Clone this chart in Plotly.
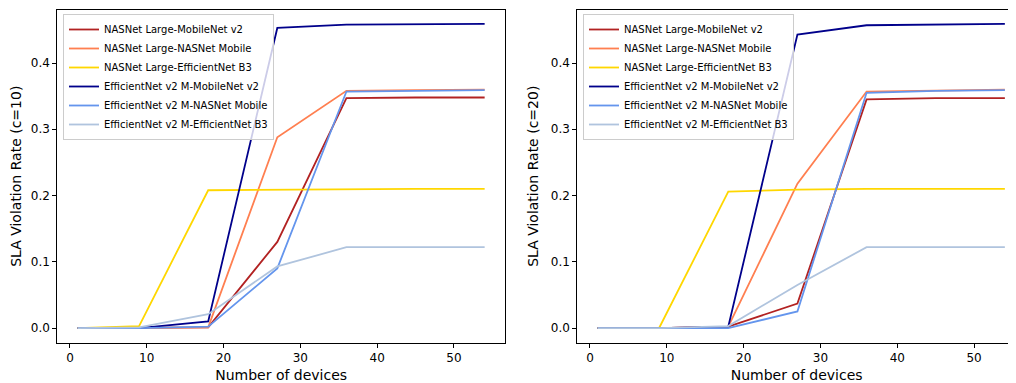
import plotly.graph_objects as go

devices = [1, 9, 18, 27, 36, 45, 54]

series_names = [
    "NASNet Large-MobileNet v2",
    "NASNet Large-NASNet Mobile",
    "NASNet Large-EfficientNet B3",
    "EfficientNet v2 M-MobileNet v2",
    "EfficientNet v2 M-NASNet Mobile",
    "EfficientNet v2 M-EfficientNet B3",
]
series_colors = ["#b22222", "#ff7f50", "#ffd700", "#00008b", "#6495ed", "#b0c4de"]

# SLA violation rate, c=10
c10_nl_mnv2 = [0.0, 0.0, 0.001, 0.130, 0.347, 0.348, 0.348]
c10_nl_nasm = [0.0, 0.0, 0.001, 0.288, 0.358, 0.359, 0.360]
c10_nl_effb3 = [0.0, 0.003, 0.208, 0.209, 0.210, 0.210, 0.210]
c10_ev2_mnv2 = [0.0, 0.0, 0.010, 0.453, 0.458, 0.459, 0.459]
c10_ev2_nasm = [0.0, 0.0, 0.002, 0.090, 0.357, 0.358, 0.359]
c10_ev2_effb3 = [0.0, 0.001, 0.021, 0.093, 0.122, 0.122, 0.122]

# SLA violation rate, c=20
c20_nl_mnv2 = [0.0, 0.0, 0.002, 0.037, 0.345, 0.347, 0.347]
c20_nl_nasm = [0.0, 0.0, 0.002, 0.218, 0.357, 0.359, 0.360]
c20_nl_effb3 = [0.0, 0.0, 0.206, 0.209, 0.210, 0.210, 0.210]
c20_ev2_mnv2 = [0.0, 0.0, 0.002, 0.443, 0.457, 0.458, 0.459]
c20_ev2_nasm = [0.0, 0.0, 0.0, 0.025, 0.355, 0.358, 0.359]
c20_ev2_effb3 = [0.0, 0.0, 0.003, 0.065, 0.122, 0.122, 0.122]

c10 = [c10_nl_mnv2, c10_nl_nasm, c10_nl_effb3, c10_ev2_mnv2, c10_ev2_nasm, c10_ev2_effb3]
c20 = [c20_nl_mnv2, c20_nl_nasm, c20_nl_effb3, c20_ev2_mnv2, c20_ev2_nasm, c20_ev2_effb3]

FONT = "DejaVu Sans"
W, H = 1008, 375  # page body has an 8px margin

fig = go.Figure()

for name, color, ys in zip(series_names, series_colors, c10):
    fig.add_trace(go.Scatter(x=devices, y=ys, mode="lines", name=name,
                             line=dict(color=color, width=1.8),
                             xaxis="x", yaxis="y", legend="legend"))
for name, color, ys in zip(series_names, series_colors, c20):
    fig.add_trace(go.Scatter(x=devices, y=ys, mode="lines", name=name,
                             line=dict(color=color, width=1.8),
                             xaxis="x2", yaxis="y2", legend="legend2"))

ydom = [(H - 335) / H, (H - 1.5) / H]
axis_common = dict(showgrid=False, zeroline=False, showline=True, linecolor="black",
                   linewidth=1, ticks="outside", ticklen=4, tickwidth=1, tickcolor="black",
                   automargin=False,
                   tickfont=dict(family=FONT, size=12, color="black"))

fig.update_layout(
    width=W, height=H,
    margin=dict(l=0, r=0, t=0, b=0, autoexpand=False),
    plot_bgcolor="white", paper_bgcolor="white",
    font=dict(family=FONT, size=12, color="black"),
    xaxis=dict(domain=[49.3 / W, 497 / W], range=[-1.65, 56.65], anchor="y",
               tickvals=[0, 10, 20, 30, 40, 50], mirror=True,
               title=dict(text="Number of devices", standoff=5), **axis_common),
    yaxis=dict(domain=ydom, range=[-0.0226, 0.4808], anchor="x",
               tickvals=[0, 0.1, 0.2, 0.3, 0.4], tickformat=".1f", mirror=True,
               title=dict(text="SLA Violation Rate (c=10)", standoff=8), **axis_common),
    xaxis2=dict(domain=[569.3 / W, 1.0], range=[-1.65, 55.45], anchor="y2",
                tickvals=[0, 10, 20, 30, 40, 50], mirror=True,
                title=dict(text="Number of devices", standoff=5), **axis_common),
    yaxis2=dict(domain=ydom, range=[-0.0226, 0.4808], anchor="x2",
                tickvals=[0, 0.1, 0.2, 0.3, 0.4], tickformat=".1f",
                title=dict(text="SLA Violation Rate (c=20)", standoff=8), **axis_common),
    legend=dict(x=55 / W, y=(H - 6) / H, xanchor="left", yanchor="top",
                bgcolor="rgba(255,255,255,0.8)", bordercolor="#cccccc", borderwidth=1,
                font=dict(family=FONT, size=10, color="black"), itemwidth=30,
                tracegroupgap=0),
    legend2=dict(x=575 / W, y=(H - 6) / H, xanchor="left", yanchor="top",
                 bgcolor="rgba(255,255,255,0.8)", bordercolor="#cccccc", borderwidth=1,
                 font=dict(family=FONT, size=10, color="black"), itemwidth=30,
                 tracegroupgap=0),
    showlegend=True,
)

fig.write_html("out.html")
